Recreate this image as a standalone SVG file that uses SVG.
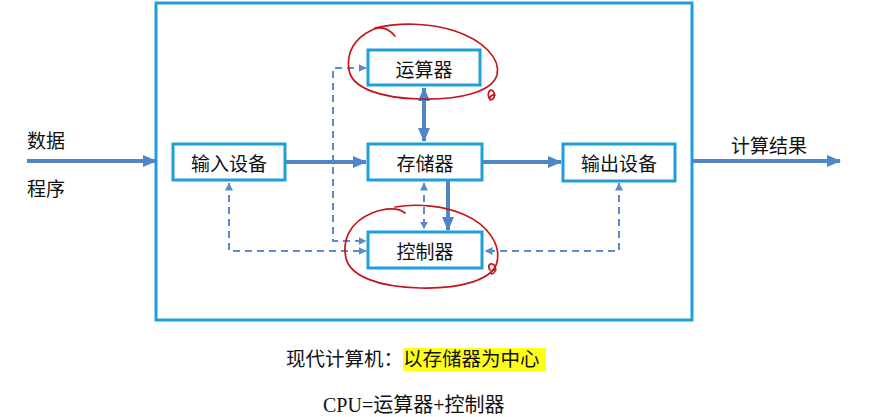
<svg xmlns="http://www.w3.org/2000/svg" width="880" height="417" viewBox="0 0 880 417">
  <style>
    .frame { fill: none; stroke: #1f9fd9; stroke-width: 3; }
    .box rect { fill: #ffffff; stroke: #1f9fd9; stroke-width: 3; }
    .box text, .lbl { font-family: "Noto Sans CJK SC", "Noto Sans", sans-serif; font-size: 19px; fill: #111111; }
    .box text { text-anchor: middle; dominant-baseline: central; }
    .solid { fill: none; stroke: #4f86c6; stroke-width: 4; }
    .dash { fill: none; stroke: #5b8cc8; stroke-width: 2; stroke-dasharray: 7 5; }
    .ink { fill: none; stroke: #c3161c; stroke-width: 1.7; stroke-linecap: round; stroke-linejoin: round; }
    .note { font-family: "Noto Sans CJK SC", sans-serif; font-size: 19.5px; fill: #111111; }
    .cpu { font-family: "Liberation Serif", "Noto Sans CJK SC", serif; font-size: 20px; fill: #111111; }
  </style>
  <defs>
    <marker id="big" viewBox="0 0 14 12" refX="13" refY="6" markerWidth="14" markerHeight="12" markerUnits="userSpaceOnUse" orient="auto-start-reverse">
      <path d="M0,0 L14,6 L0,12 Z" fill="#4f86c6"/>
    </marker>
    <marker id="small" viewBox="0 0 8 8" refX="7.5" refY="4" markerWidth="8" markerHeight="8" markerUnits="userSpaceOnUse" orient="auto-start-reverse">
      <path d="M0,0 L8,4 L0,8 Z" fill="#5b8cc8"/>
    </marker>
  </defs>

  <!-- main frame -->
  <rect class="frame" x="156" y="3" width="536" height="317"/>

  <!-- connectors -->
  <g id="connectors">
    <line class="solid" x1="27" y1="161" x2="156" y2="161" marker-end="url(#big)"/>
    <line class="solid" x1="692" y1="161" x2="840" y2="161" marker-end="url(#big)"/>
    <line class="solid" x1="285" y1="162" x2="366" y2="162" marker-end="url(#big)"/>
    <line class="solid" x1="482" y1="162" x2="561" y2="162" marker-end="url(#big)"/>
    <line class="solid" x1="424" y1="88" x2="424" y2="141" marker-start="url(#big)" marker-end="url(#big)"/>
    <line class="solid" x1="448" y1="180" x2="448" y2="230" marker-end="url(#big)"/>
    <line class="dash" x1="424" y1="183" x2="424" y2="229" marker-start="url(#small)" marker-end="url(#small)"/>
    <polyline class="dash" points="366,68 333,68 333,241 366,241" marker-start="url(#small)" marker-end="url(#small)"/>
    <polyline class="dash" points="229,183 229,251 366,251" marker-start="url(#small)" marker-end="url(#small)"/>
    <polyline class="dash" points="619,183 619,251 485,251" marker-start="url(#small)" marker-end="url(#small)"/>
  </g>

  <!-- units -->
  <g id="alu" class="box"><rect x="368" y="50" width="112" height="35"/><text x="424" y="68">运算器</text></g>
  <g id="input" class="box"><rect x="173" y="144" width="112" height="36"/><text x="229" y="162">输入设备</text></g>
  <g id="memory" class="box"><rect x="368" y="144" width="114" height="36"/><text x="425" y="162">存储器</text></g>
  <g id="output" class="box"><rect x="563" y="144" width="112" height="37"/><text x="619" y="162">输出设备</text></g>
  <g id="control" class="box"><rect x="368" y="232" width="114" height="36"/><text x="425" y="250">控制器</text></g>

  <!-- outside labels -->
  <text class="lbl" x="27" y="148">数据</text>
  <text class="lbl" x="27" y="196">程序</text>
  <text class="lbl" x="731" y="153">计算结果</text>

  <!-- red pen circles -->
  <path class="ink" d="M395,36 C388,28 380,26 372,30 C355,38 346,52 349,70 C352,88 380,98 420,99 C460,100 492,92 497,75 C501,58 482,40 455,31 C430,23 400,22 375,28"/>
  <path class="ink" d="M489,98 C487,93 490,88 493,91 C496,95 494,100 490,100 C489,98 491,94 495,95"/>
  <path class="ink" d="M405,213 C398,207 385,208 372,213 C350,222 342,240 346,258 C350,276 378,287 420,288 C460,289 493,280 497,262 C501,245 488,225 465,215 C445,206 418,203 395,207"/>
  <path class="ink" d="M490,270 C487,266 490,262 494,265 C497,269 495,273 492,274 C490,273 491,270 496,270"/>

  <!-- notes -->
  <rect x="403" y="348" width="143" height="23" fill="#ffff1a"/>
  <text class="note" x="286" y="366">现代计算机：以存储器为中心</text>
  <text class="cpu" x="323" y="412">CPU=运算器+控制器</text>
</svg>
